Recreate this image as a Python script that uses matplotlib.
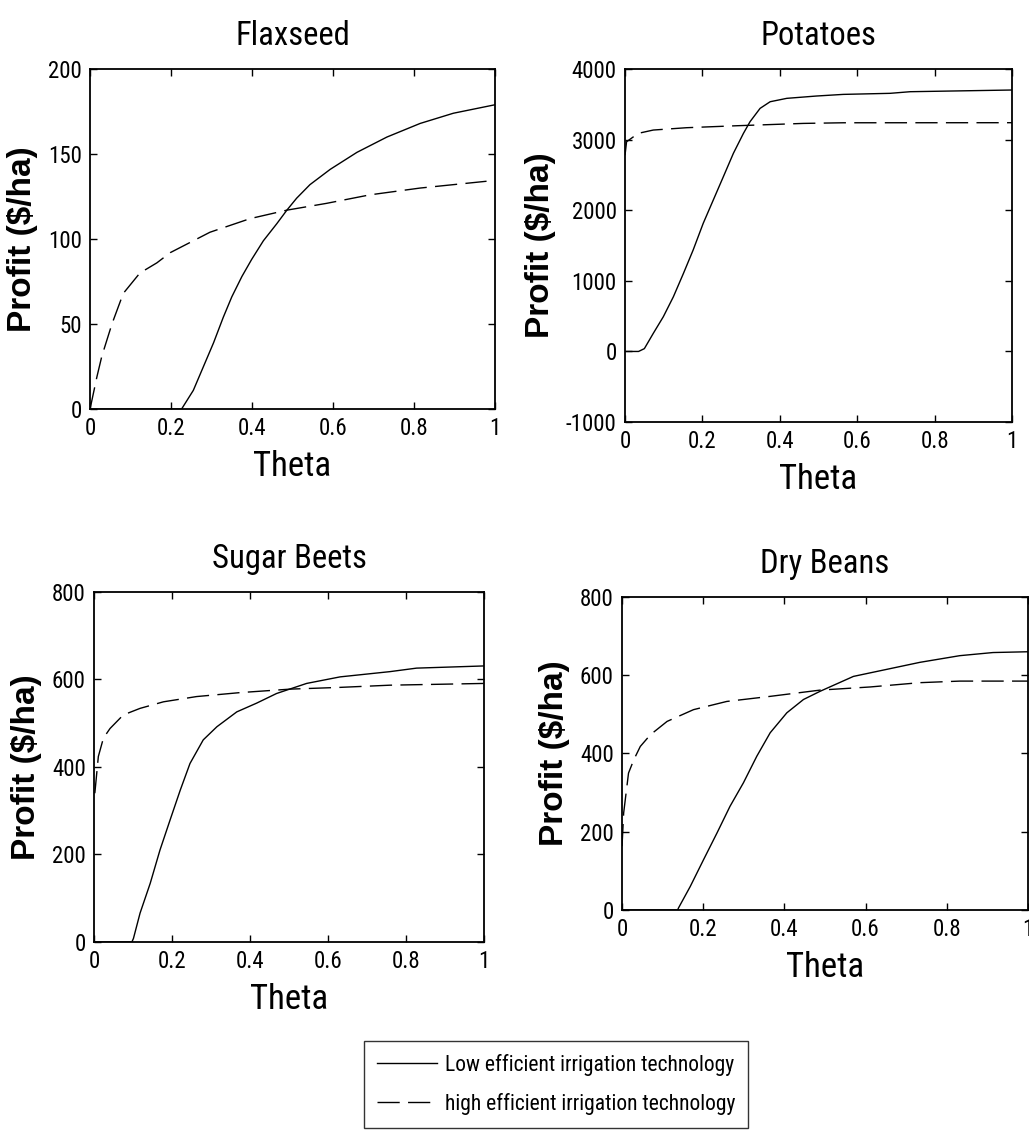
import matplotlib
matplotlib.use('Agg')
import matplotlib.pyplot as plt
from matplotlib import font_manager
from matplotlib.font_manager import FontProperties
from matplotlib.lines import Line2D

# Theta grid points and profit values
flax_low_x = [0, 0.226, 0.255, 0.280, 0.305, 0.329, 0.350, 0.375, 0.399, 0.428, 0.461, 0.486, 0.510,
              0.543, 0.593, 0.659, 0.733, 0.815, 0.897, 1.0]
flax_low_y = [0, 0, 11, 25, 39, 54, 66, 78, 88, 99, 109, 117, 124, 132, 141, 151, 160, 168, 174, 179]
flax_high_x = [0, 0.017, 0.029, 0.054, 0.082, 0.123, 0.165, 0.198, 0.296, 0.395, 0.486, 0.584, 0.691,
               0.815, 0.979]
flax_high_y = [0, 19, 31, 50, 68, 80, 86, 92, 104, 112, 117, 121, 126, 130, 134]

pot_low_x = [0, 0.035, 0.050, 0.073, 0.099, 0.125, 0.151, 0.176, 0.202, 0.228, 0.254, 0.280, 0.306,
             0.323, 0.349, 0.375, 0.418, 0.495, 0.564, 0.685, 0.737, 1.0]
pot_low_y = [0, 0, 40, 256, 492, 775, 1106, 1436, 1814, 2144, 2474, 2806, 3089, 3254, 3443, 3537,
             3585, 3618, 3641, 3656, 3679, 3703]
pot_high_x = [0, 0.004, 0.034, 0.073, 0.159, 0.289, 0.461, 0.564, 1.0]
pot_high_y = [2780, 2970, 3089, 3136, 3169, 3197, 3230, 3239, 3240]

beet_low_x = [0, 0.097, 0.101, 0.118, 0.144, 0.169, 0.195, 0.221, 0.246, 0.280, 0.315, 0.366, 0.417,
              0.468, 0.545, 0.631, 0.759, 0.827, 1.0]
beet_low_y = [0, 0, 8, 66, 134, 210, 279, 347, 408, 462, 492, 526, 546, 568, 591, 606, 618, 626, 631]
beet_high_x = [0.002, 0.011, 0.024, 0.041, 0.075, 0.118, 0.178, 0.263, 0.374, 0.503, 0.631, 0.759, 1.0]
beet_high_y = [340, 424, 466, 488, 519, 534, 549, 561, 570, 578, 582, 587, 591]

bean_low_x = [0, 0.137, 0.139, 0.168, 0.201, 0.234, 0.266, 0.299, 0.332, 0.365, 0.406, 0.447, 0.488,
              0.570, 0.652, 0.734, 0.832, 0.914, 1.0]
bean_low_y = [0, 0, 5, 60, 129, 197, 265, 325, 393, 453, 504, 538, 559, 597, 615, 633, 650, 658, 660]
bean_high_x = [0, 0.004, 0.016, 0.029, 0.045, 0.070, 0.111, 0.176, 0.258, 0.365, 0.488, 0.611, 0.734,
               0.832, 1.0]
bean_high_y = [163, 248, 350, 384, 418, 448, 482, 512, 533, 546, 562, 570, 581, 585, 585]

titles = ['Flaxseed', 'Potatoes', 'Sugar Beets', 'Dry Beans']
ylims = [(0, 200), (-1000, 4000), (0, 800), (0, 800)]
yticks = [[0, 50, 100, 150, 200],
          [-1000, 0, 1000, 2000, 3000, 4000],
          [0, 200, 400, 600, 800],
          [0, 200, 400, 600, 800]]
xticks = [0, 0.2, 0.4, 0.6, 0.8, 1]
legend_labels = ['Low efficient irrigation technology', 'high efficient irrigation technology']


# look for a narrow / condensed regular face; the original text is squeezed sideways
def find_narrow():
    prefs = ['liberationsansnarrow', 'robotocondensed', 'opensans', 'dejavusanscondensed', 'notosans', 'lato', 'inter']
    found = {}
    for f in font_manager.fontManager.ttflist:
        key = f.fname.lower().replace('-', '').replace('_', '').replace(' ', '')
        base = key.split('/')[-1]
        if ('narrow' in base or 'condensed' in base) and 'bold' not in base and 'italic' not in base \
                and 'oblique' not in base and 'light' not in base and 'semi' not in base:
            for p in prefs:
                if base.startswith(p) and p not in found:
                    found[p] = f.fname
    for p in prefs:
        if p in found:
            return found[p], True
    return None, False


narrow_path, is_narrow = find_narrow()


def fp(size):
    if narrow_path:
        return FontProperties(fname=narrow_path, size=size)
    return FontProperties(family='Liberation Sans', size=size)


# scale down sizes if no condensed face exists
k = 1.0 if is_narrow else 0.8

fig = plt.figure(figsize=(10.29, 11.30), dpi=100)

# axes boxes in figure fractions
boxes = [[0.0875, 0.638, 0.3936, 0.3009],
         [0.6074, 0.6265, 0.3761, 0.3124],
         [0.0914, 0.1664, 0.3790, 0.3097],
         [0.6045, 0.1947, 0.3945, 0.2770]]

series = [(flax_low_x, flax_low_y, flax_high_x, flax_high_y),
          (pot_low_x, pot_low_y, pot_high_x, pot_high_y),
          (beet_low_x, beet_low_y, beet_high_x, beet_high_y),
          (bean_low_x, bean_low_y, bean_high_x, bean_high_y)]

dash = (16, 6)

for i in range(4):
    ax = fig.add_axes(boxes[i])
    lx, ly, hx, hy = series[i]
    ax.plot(lx, ly, color='black', linewidth=1.0)
    ax.plot(hx, hy, color='black', linewidth=1.0, linestyle=(0, dash))

    ax.set_xlim(0, 1)
    ax.set_ylim(*ylims[i])
    ax.set_xticks(xticks)
    ax.set_xticklabels(['0', '0.2', '0.4', '0.6', '0.8', '1'])
    ax.set_yticks(yticks[i])
    ax.set_yticklabels([str(v) for v in yticks[i]])
    ax.tick_params(direction='in', length=5, width=1, top=True, right=True, pad=6)
    for lab in ax.get_xticklabels() + ax.get_yticklabels():
        lab.set_fontproperties(fp(16.5 * k))
    for sp in ax.spines.values():
        sp.set_linewidth(1.3)

    ax.set_title(titles[i], fontproperties=fp(23.5 * k), pad=17)
    ax.set_xlabel('Theta', fontproperties=fp(25 * k), labelpad=7)
    ax.set_ylabel('Profit ($/ha)', fontsize=24, fontweight='bold',
                  family='Liberation Sans', labelpad=7)

handles = [Line2D([], [], color='black', linewidth=1.0),
           Line2D([], [], color='black', linewidth=1.0, linestyle=(0, dash))]
leg = fig.legend(handles, legend_labels, loc='lower left', bbox_to_anchor=(0.354, 0.002),
                 prop=fp(15.5 * k), frameon=True, fancybox=False,
                 edgecolor='black', handlelength=2.8, handletextpad=0.35,
                 borderpad=0.6, labelspacing=0.8, borderaxespad=0)
leg.get_frame().set_linewidth(1.0)

fig.savefig('out.png', dpi=100)
